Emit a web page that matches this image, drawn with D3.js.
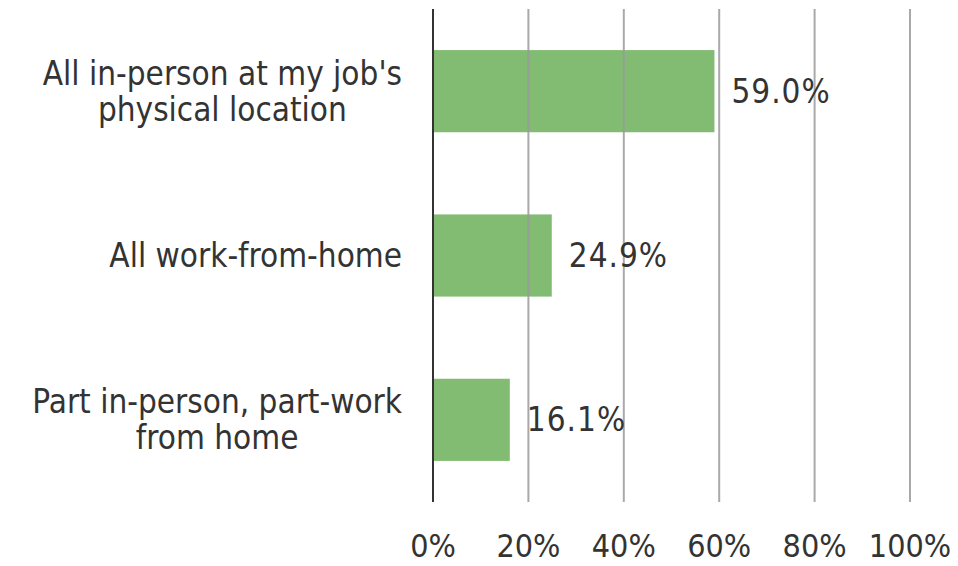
<!DOCTYPE html>
<html>
<head>
<meta charset="utf-8">
<script src="https://cdn.jsdelivr.net/npm/d3@7"></script>
<style>
  body { margin: 0; background: #fff; }
  text { font-family: "DejaVu Sans Condensed", "DejaVu Sans", Verdana, sans-serif; font-stretch: condensed; fill: #333; }
</style>
</head>
<body>
<script>
const categories = [
  ["All in-person at my job's", "physical location"],
  ["All work-from-home"],
  ["Part in-person, part-work", "from home"]
];
const values = [59.0, 24.9, 16.1];
const ticks = [0, 20, 40, 60, 80, 100];

const width = 958, height = 566;
const margin = { top: 9, right: 48, bottom: 64, left: 433 };

const svg = d3.select("body").append("svg")
  .attr("width", width)
  .attr("height", height);

const x = d3.scaleLinear().domain([0, 100]).range([margin.left, width - margin.right]);
const y = d3.scaleBand()
  .domain(d3.range(categories.length))
  .range([margin.top, height - margin.bottom])
  .paddingInner(0.5)
  .paddingOuter(0.25);

// bars
svg.append("g").selectAll("rect")
  .data(values)
  .enter()
  .append("rect")
  .attr("x", x(0))
  .attr("y", (d, i) => y(i))
  .attr("width", d => x(d) - x(0))
  .attr("height", y.bandwidth())
  .attr("fill", "#82bb72");

// gridlines
svg.append("g").selectAll("line")
  .data(ticks.slice(1))
  .enter()
  .append("line")
  .attr("x1", d => x(d)).attr("x2", d => x(d))
  .attr("y1", margin.top).attr("y2", height - margin.bottom)
  .attr("stroke", "#9a9a9a")
  .attr("stroke-opacity", 0.85)
  .attr("stroke-width", 2);

// vertical axis line
svg.append("line")
  .attr("x1", x(0)).attr("x2", x(0))
  .attr("y1", margin.top).attr("y2", height - margin.bottom)
  .attr("stroke", "#333")
  .attr("stroke-width", 2);

// x tick labels
svg.append("g").selectAll("text")
  .data(ticks)
  .enter()
  .append("text")
  .attr("x", d => x(d))
  .attr("y", 557)
  .attr("text-anchor", "middle")
  .style("font-size", "32px")
  .text(d => d + "%");

// category labels: block right-aligned to the axis, lines centred inside
const labelRight = 402;
const catG = svg.append("g").selectAll("text")
  .data(categories)
  .enter()
  .append("text")
  .attr("text-anchor", "middle")
  .style("font-size", "33px");

catG.selectAll("tspan")
  .data(d => d.map((t, j) => ({ t: t, j: j, n: d.length })))
  .enter()
  .append("tspan")
  .attr("x", 0)
  .attr("y", d => (d.j - (d.n - 1) / 2) * 36)
  .attr("dy", "0.35em")
  .text(d => d.t);

catG.attr("transform", function (d, i) {
  const w = d3.max(d3.select(this).selectAll("tspan").nodes(), n => n.getComputedTextLength());
  const cy = y(i) + y.bandwidth() / 2;
  return "translate(" + (labelRight - w / 2) + "," + cy + ")";
});

// value labels
svg.append("g").selectAll("text")
  .data(values)
  .enter()
  .append("text")
  .attr("x", d => x(d) + 17)
  .attr("y", (d, i) => y(i) + y.bandwidth() / 2)
  .attr("dy", "0.35em")
  .style("font-size", "33px")
  .style("letter-spacing", "1px")
  .text(d => d.toFixed(1) + "%");
</script>
</body>
</html>
